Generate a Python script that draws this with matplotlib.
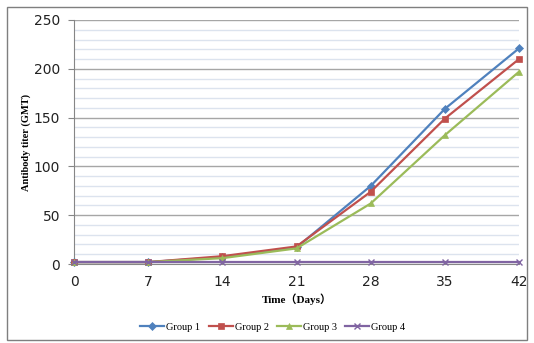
import matplotlib
matplotlib.use('Agg')
import matplotlib.pyplot as plt
from matplotlib.patches import Rectangle

days = [0, 7, 14, 21, 28, 35, 42]
group1 = [2, 2, 7, 17, 80, 159, 221]
group2 = [2, 2, 8, 18, 74, 149, 210]
group3 = [2, 2, 6, 16, 62, 132, 197]
group4 = [2, 2, 2, 2, 2, 2, 2]
labels = ['Group 1', 'Group 2', 'Group 3', 'Group 4']
colors = ['#4F81BD', '#C0504D', '#9BBB59', '#8064A2']
markers = ['D', 's', '^', 'x']
msizes = [4, 5, 5, 5]

fig = plt.figure(figsize=(5.34, 3.43), dpi=100)
ax = fig.add_axes([0.1386, 0.2303, 0.8334, 0.7114])

for ys, lb, cl, mk, ms in zip([group1, group2, group3, group4], labels, colors, markers, msizes):
    ax.plot(days, ys, color=cl, marker=mk, markersize=ms, linewidth=1.6, label=lb,
            markeredgewidth=1 if mk == 'x' else 0.5, clip_on=False, zorder=3)

ax.set_xlim(0, 42)
ax.set_ylim(0, 250)
ax.set_xticks(days)
ax.set_yticks(range(0, 251, 50))
ax.set_yticks(range(0, 251, 10), minor=True)
ax.grid(which='major', axis='y', color='#A6A6A6', linewidth=1)
ax.grid(which='minor', axis='y', color='#DCE3EE', linewidth=1)
ax.set_axisbelow(True)
for s in ['top', 'right']:
    ax.spines[s].set_visible(False)
for s in ['left', 'bottom']:
    ax.spines[s].set_color('#868686')
ax.tick_params(axis='both', which='both', length=0, labelsize=10, colors='#222222')
ax.tick_params(axis='y', which='major', length=4, color='#868686', pad=6)
ax.tick_params(axis='x', pad=8)

ax.set_xlabel('Time（Days）', family=['Liberation Serif', 'Noto Sans CJK SC'],
              fontweight='bold', fontsize=8, labelpad=3)
ax.set_ylabel('Antibody titer (GMT)', family='Liberation Serif',
              fontweight='bold', fontsize=7.5, labelpad=2)

leg = ax.legend(loc='center', bbox_to_anchor=(0.447, -0.258), ncol=4, frameon=False,
                prop={'family': 'Liberation Serif', 'size': 7.5},
                handlelength=2.3, columnspacing=0.8, handletextpad=0.2)

fig.patches.append(Rectangle((7 / 534, 3 / 343), 520 / 534, 333 / 343, transform=fig.transFigure,
                             fill=False, edgecolor='#7F7F7F', linewidth=1))

fig.savefig('out.png', dpi=100)
